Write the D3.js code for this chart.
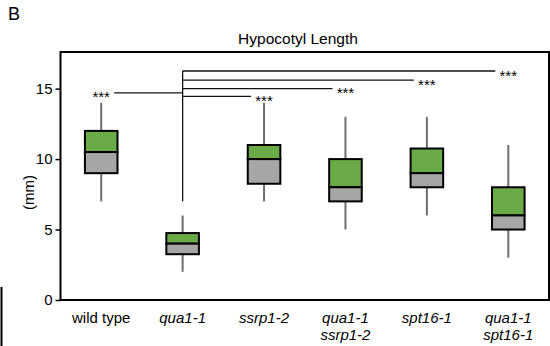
<!DOCTYPE html>
<html>
<head>
<meta charset="utf-8">
<script src="https://cdn.jsdelivr.net/npm/d3@7"></script>
<style>
  body { margin: 0; background: #fff; }
  text { font-family: "Liberation Sans", Arial, sans-serif; fill: #000; }
</style>
</head>
<body>
<svg id="chart" width="550" height="346"></svg>
<script>
// box plot values (mm)
var categories = ["wild type", "qua1-1", "ssrp1-2", "qua1-1\nssrp1-2", "spt16-1", "qua1-1\nspt16-1"];
var italicLabel = [false, true, true, true, true, true];
var mins    = [7, 2, 7, 5, 6, 3];
var q1s     = [9, 3.25, 8.25, 7, 8, 5];
var medians = [10.5, 4, 10, 8, 9, 6];
var q3s     = [12, 4.75, 11, 10, 10.75, 8];
var maxs    = [14, 6, 14, 13, 13, 11];

var yTicks = [0, 5, 10, 15];

// significance brackets, all against qua1-1
var sigFrom = "qua1-1";
var sigFromBottom = 7;
var sigTargets = ["wild type", "ssrp1-2", "qua1-1\nssrp1-2", "spt16-1", "qua1-1\nspt16-1"];
var sigLevels  = [14.7, 14.45, 15.0, 15.6, 16.25];
var sigLabels  = ["***", "***", "***", "***", "***"];

var svg = d3.select("#chart");
// note: "top" is reserved on window, so use plot* names
var plotLeft = 60.5, plotRight = 549, plotTop = 52, plotBottom = 300;

var x = d3.scaleBand().domain(categories).range([plotLeft, plotRight]).padding(0);
var y = d3.scaleLinear().domain([0, 17.6]).range([plotBottom, plotTop]);
var boxW = x.bandwidth() * 0.4;

// panel letter + title
svg.append("text").attr("x", 8).attr("y", 20).style("font-size", "18px").text("B");
svg.append("text").attr("x", 298).attr("y", 44)
    .attr("text-anchor", "middle").style("font-size", "15.5px").text("Hypocotyl Length");

// y axis
var yAxis = svg.append("g").attr("transform", "translate(" + plotLeft + ",0)")
    .call(d3.axisLeft(y).tickValues(yTicks).tickSize(5).tickPadding(3));
yAxis.select(".domain").remove();
yAxis.selectAll("line").attr("stroke", "#000").attr("stroke-width", 1.5);
yAxis.selectAll("text").style("font-size", "15px")
    .style("font-family", "Liberation Sans, Arial, sans-serif");

svg.append("text").attr("transform", "translate(34,192.5) rotate(-90)")
    .attr("text-anchor", "middle").style("font-size", "15px").text("(mm)");

// x labels (multi-line)
categories.forEach(function (c, i) {
    var t = svg.append("text")
        .attr("x", x(c) + x.bandwidth() / 2)
        .attr("y", 323)
        .attr("text-anchor", "middle")
        .style("font-size", "15px")
        .style("font-style", italicLabel[i] ? "italic" : "normal");
    c.split("\n").forEach(function (line, k) {
        t.append("tspan").attr("x", x(c) + x.bandwidth() / 2)
            .attr("dy", k == 0 ? 0 : 17).text(line);
    });
});

// boxes
var g = svg.append("g");
categories.forEach(function (c, i) {
    var cx = x(c) + x.bandwidth() / 2;
    g.append("line").attr("x1", cx).attr("x2", cx)
        .attr("y1", y(maxs[i])).attr("y2", y(q3s[i]))
        .attr("stroke", "#6e6e6e").attr("stroke-width", 2);
    g.append("line").attr("x1", cx).attr("x2", cx)
        .attr("y1", y(q1s[i])).attr("y2", y(mins[i]))
        .attr("stroke", "#6e6e6e").attr("stroke-width", 2);
    g.append("rect").attr("x", cx - boxW / 2).attr("width", boxW)
        .attr("y", y(q3s[i])).attr("height", y(medians[i]) - y(q3s[i]))
        .attr("fill", "#6aab47").attr("stroke", "#000").attr("stroke-width", 2);
    g.append("rect").attr("x", cx - boxW / 2).attr("width", boxW)
        .attr("y", y(medians[i])).attr("height", y(q1s[i]) - y(medians[i]))
        .attr("fill", "#a6a6a6").attr("stroke", "#000").attr("stroke-width", 2);
});

// significance lines
var fx = x(sigFrom) + x.bandwidth() / 2;
var sg = svg.append("g").attr("stroke", "#111").attr("stroke-width", 1.3);
sg.append("line").attr("x1", fx).attr("x2", fx)
    .attr("y1", y(sigFromBottom)).attr("y2", y(d3.max(sigLevels)));
sigTargets.forEach(function (c, i) {
    var tx = x(c) + x.bandwidth() / 2;
    var ly = y(sigLevels[i]);
    var starHalf = 9;
    var endX = tx < fx ? tx + starHalf + 4 : tx - starHalf - 4;
    sg.append("line").attr("x1", fx).attr("x2", endX).attr("y1", ly).attr("y2", ly);
    svg.append("text").attr("x", tx).attr("y", ly + 9.6)
        .attr("text-anchor", "middle").style("font-size", "15px").text(sigLabels[i]);
});

// frame
svg.append("rect").attr("x", plotLeft).attr("y", plotTop)
    .attr("width", plotRight - plotLeft).attr("height", plotBottom - plotTop)
    .attr("fill", "none").attr("stroke", "#000").attr("stroke-width", 2);

// stray edge line at lower left of the source image
svg.append("line").attr("x1", 1.5).attr("x2", 1.5).attr("y1", 287).attr("y2", 346)
    .attr("stroke", "#000").attr("stroke-width", 2);
</script>
</body>
</html>
